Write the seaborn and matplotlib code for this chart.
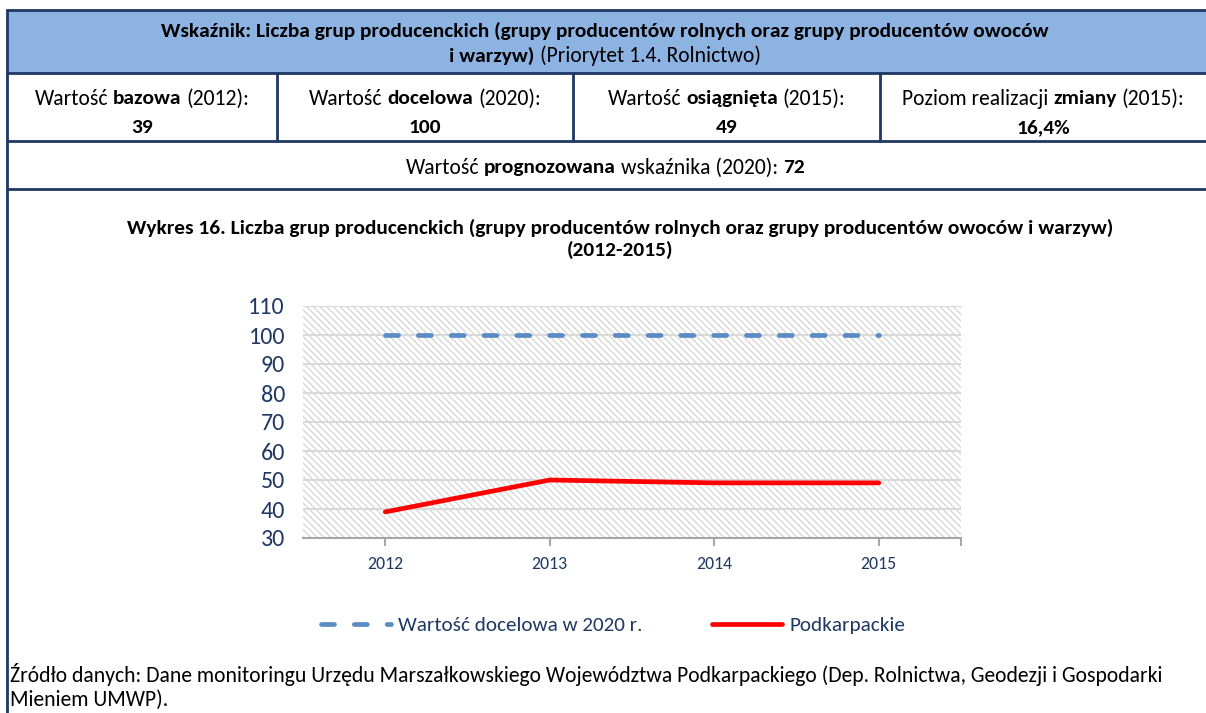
import numpy as np
import pandas as pd
import seaborn as sns
import matplotlib
matplotlib.use("Agg")
import matplotlib.pyplot as plt
from matplotlib.patches import Rectangle
from matplotlib import font_manager

# ---------------- data ----------------
years = ["2012", "2013", "2014", "2015"]
target_2020 = [100, 100, 100, 100]
podkarpackie = [39, 50, 49, 49]
y_ticks = [30, 40, 50, 60, 70, 80, 90, 100, 110]
series_names = ["Wartość docelowa w 2020 r.", "Podkarpackie"]

header_line1 = "Wskaźnik: Liczba grup producenckich (grupy producentów rolnych oraz grupy producentów owoców"
header_line2 = [("i warzyw)", True), (" (Priorytet 1.4. Rolnictwo)", False)]
cell_labels = [
    [("Wartość ", False), ("bazowa", True), (" (2012):", False)],
    [("Wartość ", False), ("docelowa", True), (" (2020):", False)],
    [("Wartość ", False), ("osiągnięta", True), (" (2015):", False)],
    [("Poziom realizacji ", False), ("zmiany", True), (" (2015):", False)],
]
cell_values = ["39", "100", "49", "16,4%"]
forecast_line = [("Wartość ", False), ("prognozowana", True),
                 (" wskaźnika (2020): ", False), ("72", True)]
chart_title1 = "Wykres 16. Liczba grup producenckich (grupy producentów rolnych oraz grupy producentów owoców i warzyw)"
chart_title2 = "(2012-2015)"
source1 = ("Źródło danych: Dane monitoringu Urzędu Marszałkowskiego Województwa "
           "Podkarpackiego (Dep. Rolnictwa, Geodezji i Gospodarki")
source2 = "Mieniem UMWP)."

# ---------------- style ----------------
sns.set_theme(style="white")
names = {f.name for f in font_manager.fontManager.ttflist}
FAM = "Carlito" if "Carlito" in names else "Lato"
plt.rcParams["font.family"] = [FAM, "DejaVu Sans"]
plt.rcParams["hatch.linewidth"] = 0.8

NAVY = "#1F3864"
BORDER = "#1F3864"
HEAD_BG = "#8DB3E2"
BLUE = "#5A8BC5"
RED = "#FF0000"

W, H = 1206, 713
fig = plt.figure(figsize=(W / 100, H / 100), dpi=100)
bg = fig.add_axes([0, 0, 1, 1])
bg.set_xlim(0, W)
bg.set_ylim(H, 0)
bg.axis("off")
renderer = fig.canvas.get_renderer()


def text_w(s, size, weight):
    t = bg.text(0, 0, s, fontsize=size, fontweight=weight)
    w = t.get_window_extent(renderer=renderer).width
    t.remove()
    return w


def space_w(size, weight):
    return text_w("a a", size, weight) - text_w("aa", size, weight)


def fit(s, target_px, weight="normal"):
    return 10 * target_px / text_w(s, 10, weight)


BODY = fit(source1, 1155)
BOLD = BODY * 0.99


def rich(x, y, segs, ha="center", color="black"):
    items, total = [], 0.0
    for s, b in segs:
        wt = "bold" if b else "normal"
        size = BOLD if b else BODY
        core = s.strip(" ")
        lead = len(s) - len(s.lstrip(" "))
        trail = len(s) - len(s.rstrip(" "))
        sp = space_w(size, wt)
        cw = text_w(core, size, wt) if core else 0
        items.append((core, wt, size, total + lead * sp))
        total += lead * sp + cw + trail * sp
    x0 = x - total / 2 if ha == "center" else x
    for core, wt, size, off in items:
        bg.text(x0 + off, y, core, fontsize=size, fontweight=wt,
                va="center_baseline", ha="left", color=color)


# ---------------- table frame ----------------
HB = 73  # header bottom
bg.add_patch(Rectangle((7, 10), W - 7, HB - 10, facecolor=HEAD_BG, edgecolor="none", zorder=0))
lw_b = 2.0
bg.plot([7, W], [10, 10], color=BORDER, lw=lw_b)
bg.plot([7, 7], [10, H + 5], color=BORDER, lw=lw_b)
for yy in (HB, 141, 189):
    bg.plot([7, W], [yy, yy], color=BORDER, lw=lw_b)
cell_edges = [7, 277, 573, 880, W]
for xx in cell_edges[1:-1]:
    bg.plot([xx, xx], [HB, 141], color=BORDER, lw=lw_b)

# header
rich(605, 29, [(header_line1, True)])
rich(605, 54, header_line2)
# value cells
for i in range(4):
    cx = (cell_edges[i] + cell_edges[i + 1]) / 2
    rich(cx, 97, cell_labels[i])
    rich(cx, 126, [(cell_values[i], True)])
# forecast row
rich(605, 166, forecast_line)
# chart title
rich(620, 226, [(chart_title1, True)])
rich(620, 248, [(chart_title2, True)])
# source
bg.text(10, 673, source1, fontsize=BODY, va="center_baseline", ha="left", color="black")
bg.text(10, 698, source2, fontsize=BODY, va="center_baseline", ha="left", color="black")

# ---------------- chart ----------------
ax = fig.add_axes([303 / W, 1 - 538 / H, 658 / W, 232 / H])
pos = np.arange(len(years))
df = pd.DataFrame({"pos": pos, "target": target_2020, "value": podkarpackie})

ax.add_patch(Rectangle((0, 0), 1, 1, transform=ax.transAxes, facecolor="white",
                       edgecolor="#D0D0D0", hatch="\\" * 5, lw=0, zorder=0.1))

LW = 3.4
sns.lineplot(data=df, x="pos", y="target", ax=ax, color=BLUE, lw=LW,
             linestyle=(0, (2.75, 4.2)), dash_capstyle="round",
             label=series_names[0], zorder=3)
sns.lineplot(data=df, x="pos", y="value", ax=ax, color=RED, lw=LW,
             solid_capstyle="round", label=series_names[1], zorder=4)

ax.set_xlim(-0.5, len(years) - 0.5)
ax.set_ylim(y_ticks[0], y_ticks[-1])
ax.set_yticks(y_ticks)
ax.set_xticks(pos)
ax.set_xticklabels(years)
ax.set_xticks([len(years) - 0.5], minor=True)
ax.set_xlabel("")
ax.set_ylabel("")

ax.set_axisbelow(True)
ax.yaxis.grid(True, color="#D9D9D9", lw=1.5)
ax.xaxis.grid(False)
for s in ("left", "top", "right"):
    ax.spines[s].set_visible(False)
ax.spines["bottom"].set_color("#A6A6A6")
ax.spines["bottom"].set_linewidth(1.5)

ytick_size = fit("110", 37)
xtick_size = fit("2012", 36)
ax.tick_params(axis="y", length=0, pad=13, labelsize=ytick_size, labelcolor=NAVY)
ax.tick_params(axis="x", which="both", direction="out", length=5.5, width=1.5,
               color="#A6A6A6", pad=7.5, labelsize=xtick_size, labelcolor=NAVY,
               bottom=True)

handles, labels = ax.get_legend_handles_labels()
ax.get_legend().remove()
leg_size = fit(series_names[0], 244)
em = leg_size * 100 / 72
fig.legend(handles, labels, loc="center", bbox_to_anchor=(613 / W, 1 - 625 / H),
           ncol=2, frameon=False, fontsize=leg_size, labelcolor=NAVY,
           handlelength=70 / em, handletextpad=7 / em, columnspacing=70 / em,
           borderpad=0)

fig.savefig("out.png", dpi=100)
